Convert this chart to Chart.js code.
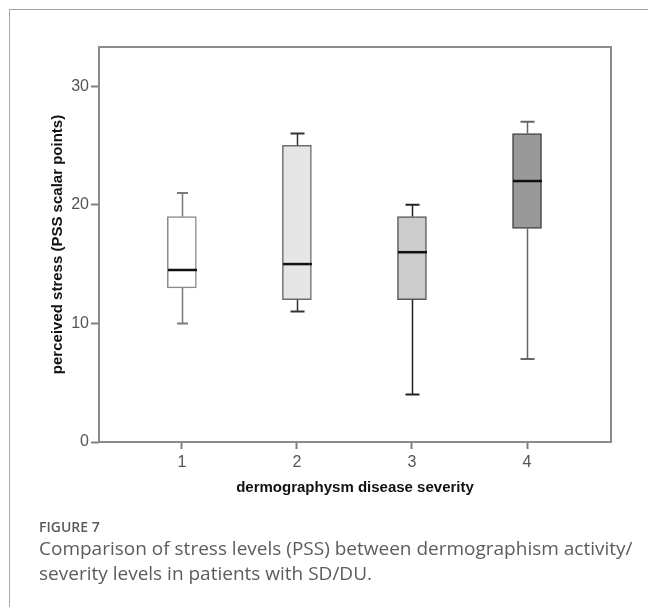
<!doctype html>
<html lang="en">
  <head>
    <meta charset="UTF-8" />
    <title>Figure 7 - PSS by dermographism severity</title>
    <script src="https://cdn.jsdelivr.net/npm/chart.js@4"></script>
    <style>
      html, body {
        margin: 0;
        padding: 0;
        background: #ffffff;
        overflow: hidden;
      }
      #page {
        position: relative;
        width: 648px;
        height: 607px;
        overflow: hidden;
      }
      /* thin gray frame round the figure (only top and left are visible) */
      #frame {
        position: absolute;
        left: 9px;
        top: 9px;
        width: 800px;
        height: 800px;
        border-top: 1px solid #a6a6a6;
        border-left: 1px solid #a6a6a6;
      }
      canvas {
        position: absolute;
        left: 0;
        top: 0;
      }
      .figlabel {
        position: absolute;
        left: 39px;
        top: 517px;
        font-family: "Open Sans", sans-serif;
        font-size: 14px;
        font-weight: 600;
        line-height: 20px;
        color: #5a5a5a;
      }
      .caption {
        position: absolute;
        left: 39px;
        top: 536px;
        font-family: "Open Sans", sans-serif;
        font-size: 19px;
        line-height: 25px;
        color: #5c5c5c;
        white-space: nowrap;
      }
    </style>
  </head>
  <body>
    <div id="page">
      <div id="frame"></div>
      <canvas id="boxChart" width="648" height="607"></canvas>
      <div class="figlabel">FIGURE 7</div>
      <div class="caption">
        Comparison of stress levels (PSS) between dermographism activity/<br />
        severity levels in patients with SD/DU.
      </div>
    </div>

    <script>
      // severity groups and the five-number summary of each box
      const severity = [1, 2, 3, 4];
      const whiskerLow = [10, 11, 4, 7];
      const q1 = [13, 12, 12, 18];
      const median = [14.5, 15, 16, 22];
      const q3 = [19, 25, 19, 26];
      const whiskerHigh = [21, 26, 20, 27];

      const yTicks = [0, 10, 20, 30];

      const boxFill = ["#ffffff", "#e6e6e6", "#cccccc", "#999999"];
      const boxEdge = ["#8a8a8a", "#6e6e6e", "#5a5a5a", "#444444"];
      const whiskerColor = ["#7a7a7a", "#333333", "#222222", "#666666"];
      const capHalf = [5.5, 7, 7, 7];

      // whiskers, caps, medians and the plot frame
      const boxExtras = {
        id: "boxExtras",
        afterDatasetsDraw(chart) {
          const ctx = chart.ctx;
          const xs = chart.scales.x;
          const ys = chart.scales.y;
          const bars = chart.getDatasetMeta(0).data;
          ctx.save();
          severity.forEach((s, i) => {
            const x = Math.round(xs.getPixelForValue(s)) + 0.5;
            const half = bars[i].width / 2;
            ctx.strokeStyle = whiskerColor[i];
            ctx.lineWidth = 1.5;
            ctx.beginPath();
            ctx.moveTo(x, ys.getPixelForValue(q3[i]));
            ctx.lineTo(x, ys.getPixelForValue(whiskerHigh[i]));
            ctx.moveTo(x, ys.getPixelForValue(q1[i]));
            ctx.lineTo(x, ys.getPixelForValue(whiskerLow[i]));
            ctx.stroke();
            ctx.lineWidth = 2;
            ctx.beginPath();
            [whiskerHigh[i], whiskerLow[i]].forEach((v) => {
              const y = ys.getPixelForValue(v);
              ctx.moveTo(x - capHalf[i], y);
              ctx.lineTo(x + capHalf[i], y);
            });
            ctx.stroke();
            // median
            ctx.strokeStyle = "#111111";
            ctx.lineWidth = 2.5;
            ctx.beginPath();
            const ym = ys.getPixelForValue(median[i]);
            ctx.moveTo(x - half, ym);
            ctx.lineTo(x + half, ym);
            ctx.stroke();
          });
          const a = chart.chartArea;
          ctx.strokeStyle = "#8c8c8c";
          ctx.lineWidth = 2;
          ctx.strokeRect(a.left, a.top, a.right - a.left, a.bottom - a.top);
          ctx.restore();
        },
      };

      const ctx = document.getElementById("boxChart").getContext("2d");
      new Chart(ctx, {
        type: "bar",
        data: {
          datasets: [
            {
              data: severity.map((s, i) => ({ x: s, y: [q1[i], q3[i]] })),
              backgroundColor: boxFill,
              borderColor: boxEdge,
              borderWidth: 1.5,
              borderSkipped: false,
              barThickness: 29,
            },
          ],
        },
        options: {
          responsive: false,
          animation: false,
          devicePixelRatio: 1,
          layout: {
            padding: { left: 45, top: 47, right: 37, bottom: 110 },
          },
          plugins: {
            legend: { display: false },
            tooltip: { enabled: false },
          },
          scales: {
            x: {
              type: "linear",
              min: 0.28,
              max: 4.73,
              offset: false,
              afterBuildTicks: (scale) => {
                scale.ticks = severity.map((v) => ({ value: v }));
              },
              afterFit: (scale) => {
                scale.height = 55;
              },
              border: { display: false },
              grid: {
                offset: false,
                drawOnChartArea: false,
                drawTicks: true,
                tickLength: 7,
                tickColor: "#808080",
                tickWidth: 2,
              },
              ticks: {
                padding: 4,
                color: "#555555",
                font: { family: "Liberation Sans", size: 16 },
              },
              title: {
                display: true,
                text: "dermographysm disease severity",
                color: "#111111",
                font: { family: "Liberation Sans", size: 15, weight: "bold" },
                padding: { top: 0, bottom: 0 },
              },
            },
            y: {
              min: 0,
              max: 33.3,
              afterBuildTicks: (scale) => {
                scale.ticks = yTicks.map((v) => ({ value: v }));
              },
              afterFit: (scale) => {
                scale.width = 54;
              },
              border: { display: false },
              grid: {
                drawOnChartArea: false,
                drawTicks: true,
                tickLength: 8,
                tickColor: "#808080",
                tickWidth: 2,
              },
              ticks: {
                padding: 2,
                color: "#555555",
                font: { family: "Liberation Sans", size: 16 },
              },
              title: {
                display: true,
                text: "perceived stress (PSS scalar points)",
                color: "#111111",
                font: { family: "Liberation Sans", size: 15, weight: "bold" },
                padding: { top: 4, bottom: 0 },
              },
            },
          },
        },
        plugins: [boxExtras],
      });
    </script>
  </body>
</html>
